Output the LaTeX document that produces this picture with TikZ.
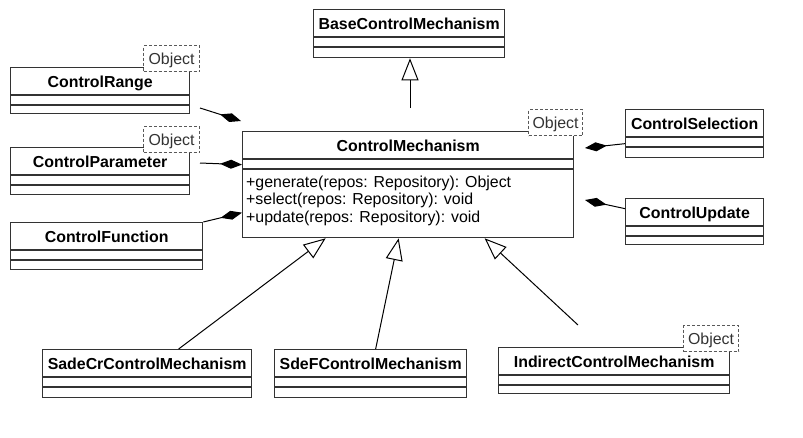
\documentclass[tikz,border=0pt]{standalone}
\usepackage{fontspec}
\setmainfont{Liberation Sans}
\usetikzlibrary{arrows.meta}
\tikzset{
 cls/.style={draw=black!80, line width=1.3pt, fill=white, rectangle, inner sep=0pt, anchor=north west},
 sep/.style={draw=black!80, line width=1.3pt},
 title/.style={font=\fontsize{15.9}{17.5}\selectfont\bfseries, inner sep=0pt, anchor=base},
 op/.style={font=\fontsize{15.9}{17.5}\selectfont, inner sep=0pt, anchor=base west},
 tag/.style={draw=black!65, dash pattern=on 3pt off 2pt, line width=1.1pt, fill=white, font=\fontsize{15.9}{17.5}\selectfont, text=black!80, inner sep=0pt, minimum height=26pt, text height=11.5pt, text depth=0pt, anchor=north west},
 inh/.style={draw=black, line width=1pt, -{Triangle[length=22pt, width=17pt, fill=white]}},
 comp/.style={draw=black, line width=1pt, -{Diamond[length=22pt, width=9pt, fill=black]}},
}
\newcommand{\UMLclass}[6]{%
 \node[cls, minimum width=#4pt, minimum height=#5pt] (#1) at (#2,#3) {};
 \node[title] (#1-t) at ([yshift=-20pt]#1.north) {#6};
 \draw[sep] ([yshift=-28pt]#1.north west) -- ([yshift=-28pt]#1.north east);
 \draw[sep] ([yshift=-38pt]#1.north west) -- ([yshift=-38pt]#1.north east);
}
\begin{document}
\begin{tikzpicture}[x=1pt, y=-1pt]
\fill[white] (0,0) rectangle (803,437);
\useasboundingbox (0,0) rectangle (803,437);

\UMLclass{base}{313}{9}{191}{48}{BaseControlMechanism}
\UMLclass{cr}{10}{67}{179}{46}{ControlRange}
\UMLclass{cp}{10}{147}{179}{47}{ControlParameter}
\UMLclass{cf}{10}{222}{192}{47}{ControlFunction}
\UMLclass{cs}{625}{109}{138}{48}{ControlSelection}
\UMLclass{cu}{625}{198}{138}{46}{ControlUpdate}
\UMLclass{sc}{42}{349}{209}{48}{SadeCrControlMechanism}
\UMLclass{sf}{274}{349}{192}{48}{SdeFControlMechanism}
\UMLclass{ic}{498}{347}{231}{46}{IndirectControlMechanism}
\UMLclass{cm}{242}{131}{331}{106}{ControlMechanism}

\node[op] (op1) at (246,187) {+generate(repos: Repository): Object};
\node[op] (op2) at (246,204.5) {+select(repos: Repository): void};
\node[op] (op3) at (246,222) {+update(repos: Repository): void};

\node[tag, minimum width=56pt] (cr-o) at (143,45) {Object};
\node[tag, minimum width=56pt] (cp-o) at (143,126) {Object};
\node[tag, minimum width=54pt] (cm-o) at (528,109) {Object};
\node[tag, minimum width=55pt] (ic-o) at (683,325) {Object};

% inheritance
\coordinate (bA) at (410,108);
\draw[inh] (bA) -- (bA |- base.south);
\draw[inh] ([xshift=31.5pt]sc.north) -- ([xshift=-82.5pt]cm.south);
\draw[inh] ([xshift=5pt]sf.north) -- ([xshift=-9.5pt]cm.south);
\coordinate (icA) at (578,325);
\draw[inh] (icA) -- ([xshift=76.5pt]cm.south);

% composition
\coordinate (crA) at (200,108);
\coordinate (crB) at (241,121);
\draw[comp] (crA) -- (crB);
\coordinate (cpA) at (200,163);
\draw[comp] (cpA) -- ([yshift=20pt]cm.west);
\draw[comp] (cf.north east) -- ([yshift=-28pt]cm.west);
\coordinate (csB) at (585,148);
\draw[comp] ([yshift=-10pt]cs.west) -- (csB);
\coordinate (cuB) at (585,200);
\draw[comp] ([yshift=13pt]cu.west) -- (cuB);
\end{tikzpicture}
\end{document}
